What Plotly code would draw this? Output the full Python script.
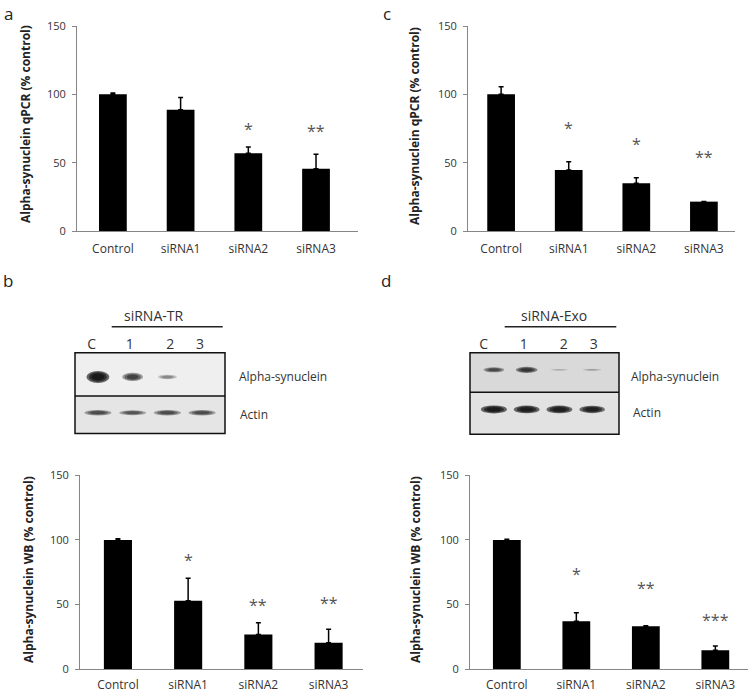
import plotly.graph_objects as go

W, H = 754, 693

# ---------------- data ----------------
categories = ["Control", "siRNA1", "siRNA2", "siRNA3"]
y_ticks = [0, 50, 100, 150]

qpcr_tr_mean = [100, 88.7, 56.8, 45.6]
qpcr_tr_err = [1.0, 9.0, 4.6, 10.5]
qpcr_tr_sig = ["", "", "*", "**"]
qpcr_tr_sig_y = [None, None, 77.5, 76]

qpcr_exo_mean = [100, 44.6, 34.9, 21.5]
qpcr_exo_err = [5.5, 6.0, 4.0, 0.0]
qpcr_exo_sig = ["", "*", "*", "**"]
qpcr_exo_sig_y = [None, 78, 66.6, 56.8]

wb_tr_mean = [100, 53, 27, 20.6]
wb_tr_err = [1.0, 17.4, 9.0, 10.3]
wb_tr_sig = ["", "*", "**", "**"]
wb_tr_sig_y = [None, 87.6, 52.8, 54]

wb_exo_mean = [100, 37.1, 33.3, 14.7]
wb_exo_err = [0.5, 6.7, 0.3, 3.4]
wb_exo_sig = ["", "*", "**", "***"]
wb_exo_sig_y = [None, 76.8, 65.7, 41.5]

lanes = ["C", "1", "2", "3"]
lane_index = [0, 1, 2, 3]
tr_alpha_band = [1.0, 0.62, 0.3, 0.0]
tr_actin_band = [0.55, 0.5, 0.55, 0.55]
exo_alpha_band = [0.55, 0.7, 0.14, 0.18]
exo_actin_band = [0.97, 0.95, 0.95, 0.9]

# ---------------- helpers ----------------
def fx(px):
    return px / W

def fy(py):
    return 1 - py / H

TXT = "#333333"
AX = "#868686"
FONT = "Open Sans"

fig = go.Figure()

panels = [
    dict(n="", mean=qpcr_tr_mean, err=qpcr_tr_err, sig=qpcr_tr_sig, sig_y=qpcr_tr_sig_y,
         box=(77, 358, 26, 231), xr=[-0.53, 3.62], w=0.41, so=7,
         title="Alpha-synuclein qPCR (% control)", tpos=(25, 124)),
    dict(n="2", mean=qpcr_exo_mean, err=qpcr_exo_err, sig=qpcr_exo_sig, sig_y=qpcr_exo_sig_y,
         box=(468, 735, 26, 231), xr=[-0.49, 3.46], w=0.41, so=7,
         title="Alpha-synuclein qPCR (% control)", tpos=(414, 126)),
    dict(n="3", mean=wb_tr_mean, err=wb_tr_err, sig=wb_tr_sig, sig_y=wb_tr_sig_y,
         box=(80, 363, 475.3, 669.3), xr=[-0.54, 3.49], w=0.40, so=4,
         title="Alpha-synuclein WB (% control)", tpos=(28, 570)),
    dict(n="4", mean=wb_exo_mean, err=wb_exo_err, sig=wb_exo_sig, sig_y=wb_exo_sig_y,
         box=(470, 748, 475.3, 669.3), xr=[-0.53, 3.47], w=0.40, so=4,
         title="Alpha-synuclein WB (% control)", tpos=(415, 570)),
]

annotations = []
shapes = []

for p in panels:
    xa = "x" + p["n"]
    ya = "y" + p["n"]
    fig.add_trace(go.Bar(
        x=categories, y=p["mean"], width=p["w"],
        marker=dict(color="black", line=dict(width=0)),
        error_y=dict(type="data", array=p["err"], arrayminus=[0] * len(p["err"]),
                     color="black", thickness=1.5, width=2.5),
        xaxis=xa, yaxis=ya, showlegend=False, hoverinfo="skip",
    ))
    x0, x1, y0, y1 = p["box"]
    xkey = "xaxis" + p["n"]
    ykey = "yaxis" + p["n"]
    fig.layout[xkey] = dict(
        domain=[fx(x0), fx(x1)], range=p["xr"], type="category", anchor=ya,
        showline=True, linecolor=AX, linewidth=1, ticks="", showgrid=False,
        tickfont=dict(family=FONT, size=12, color=TXT), zeroline=False,
        ticklabelstandoff=p["so"], automargin=False,
    )
    fig.layout[ykey] = dict(
        domain=[fy(y1), fy(y0)], range=[0, 150], anchor=xa,
        tickvals=y_ticks, showline=True, linecolor=AX, linewidth=1,
        ticks="outside", ticklen=4, tickcolor=AX, showgrid=False, zeroline=False,
        tickfont=dict(family=FONT, size=11, color=TXT), ticklabelstandoff=4,
        automargin=False,
    )
    for c, s, sy in zip(categories, p["sig"], p["sig_y"]):
        if s and sy is not None:
            annotations.append(dict(
                x=c, y=sy, xref=xa, yref=ya, text=s, showarrow=False,
                font=dict(family=FONT, size=16, color="#555555"), yshift=-4,
            ))
    annotations.append(dict(
        x=fx(p["tpos"][0]), y=fy(p["tpos"][1]), xref="paper", yref="paper",
        xanchor="center", yanchor="middle",
        text="<b>" + p["title"] + "</b>", textangle=-90, showarrow=False,
        font=dict(family=FONT, size=12, color="#222222"),
    ))

# ---------------- western blots ----------------
blots = [
    dict(n="5", alpha=tr_alpha_band, actin=tr_actin_band,
         box=(75, 225, 352.7, 433.5), xr=[-0.66, 3.66],
         rows=dict(alpha=1.40, actin=0.515, div=0.93),
         bg_top="#efefef", bg_bot="#e5e5e5",
         label_pos=[-0.18, 0.92, 2.08, 2.94],
         size_alpha=(0.33, 0.15), size_actin=(0.44, 0.11),
         header="siRNA-TR", hpos=(153, 315), hline=(111.7, 222.7, 326.7),
         lab_alpha=(236.7, 376.7), lab_actin=(238, 414)),
    dict(n="6", alpha=exo_alpha_band, actin=exo_actin_band,
         box=(470, 619, 352.7, 434.3), xr=[-0.73, 3.82],
         rows=dict(alpha=1.58, actin=0.61, div=1.03),
         bg_top="#d9d9d9", bg_bot="#e2e2e2",
         label_pos=[-0.31, 0.91, 2.13, 3.05],
         size_alpha=(0.36, 0.10), size_actin=(0.40, 0.10),
         header="siRNA-Exo", hpos=(553.5, 315), hline=(504.7, 616.3, 326.7),
         lab_alpha=(629.3, 376.7), lab_actin=(631, 413)),
]

for b in blots:
    xa = "x" + b["n"]
    ya = "y" + b["n"]
    x0, x1, y0, y1 = b["box"]
    fig.add_trace(go.Scatter(x=lane_index, y=[b["rows"]["alpha"]] * 4, mode="markers",
                             marker=dict(opacity=0), xaxis=xa, yaxis=ya,
                             showlegend=False, hoverinfo="skip"))
    fig.layout["xaxis" + b["n"]] = dict(
        domain=[fx(x0), fx(x1)], range=b["xr"], anchor=ya, side="top",
        tickvals=b["label_pos"], ticktext=lanes, ticks="", showline=False,
        showgrid=False, zeroline=False, ticklabelstandoff=0, automargin=False,
        tickfont=dict(family=FONT, size=14, color=TXT),
    )
    fig.layout["yaxis" + b["n"]] = dict(
        domain=[fy(y1), fy(y0)], range=[0, 2], anchor=xa, automargin=False,
        showticklabels=False, ticks="", showline=False, showgrid=False, zeroline=False,
    )
    div = b["rows"]["div"]
    shapes.append(dict(type="rect", xref=xa + " domain", yref=ya, x0=0, x1=1, y0=div, y1=2,
                       fillcolor=b["bg_top"], line=dict(width=0), layer="below"))
    shapes.append(dict(type="rect", xref=xa + " domain", yref=ya, x0=0, x1=1, y0=0, y1=div,
                       fillcolor=b["bg_bot"], line=dict(width=0), layer="below"))
    for key, size in (("alpha", b["size_alpha"]), ("actin", b["size_actin"])):
        row = b["rows"][key]
        for li, inten in zip(lane_index, b[key]):
            if inten <= 0:
                continue
            hw = size[0] * (0.75 + 0.25 * inten)
            hh = size[1] * (inten ** 0.8)
            for sc in (1.0, 0.78, 0.55):
                shapes.append(dict(
                    type="circle", xref=xa, yref=ya,
                    x0=li - hw * sc, x1=li + hw * sc, y0=row - hh * sc, y1=row + hh * sc,
                    fillcolor="rgba(15,15,15,%.3f)" % (0.62 * inten),
                    line=dict(width=0), layer="above",
                ))
    shapes.append(dict(type="line", xref=xa + " domain", yref=ya, x0=0, x1=1, y0=div, y1=div,
                       line=dict(color="#111111", width=1.5)))
    shapes.append(dict(type="rect", xref=xa + " domain", yref=ya + " domain", x0=0, x1=1,
                       y0=0, y1=1, line=dict(color="#111111", width=1.5)))
    annotations.append(dict(x=fx(b["hpos"][0]), y=fy(b["hpos"][1]), xref="paper", yref="paper",
                            xanchor="center", yanchor="middle",
                            text=b["header"], showarrow=False,
                            font=dict(family=FONT, size=14, color=TXT)))
    hx0, hx1, hy = b["hline"]
    shapes.append(dict(type="line", xref="paper", yref="paper", x0=fx(hx0), x1=fx(hx1),
                       y0=fy(hy), y1=fy(hy), line=dict(color="#222222", width=1.5)))
    annotations.append(dict(x=fx(b["lab_alpha"][0]), y=fy(b["lab_alpha"][1]), xref="paper",
                            yref="paper", text="Alpha-synuclein", showarrow=False,
                            xanchor="left", yanchor="middle",
                            font=dict(family=FONT, size=12, color=TXT)))
    annotations.append(dict(x=fx(b["lab_actin"][0]), y=fy(b["lab_actin"][1]), xref="paper",
                            yref="paper", text="Actin", showarrow=False,
                            xanchor="left", yanchor="middle",
                            font=dict(family=FONT, size=12, color=TXT)))

# panel letters
for letter, (px, py, ys) in (("a", (8, 0, 0)), ("c", (387, 0, 0)),
                             ("b", (8, 273, 6)), ("d", (386, 273, 6))):
    annotations.append(dict(x=fx(px), y=fy(py), xref="paper", yref="paper", text=letter,
                            xanchor="center", yanchor="top", yshift=ys,
                            showarrow=False, font=dict(family=FONT, size=17, color="#222222")))

fig.update_layout(
    template="none",
    width=W, height=H, margin=dict(l=0, r=0, t=0, b=0, pad=0),
    paper_bgcolor="white", plot_bgcolor="white",
    showlegend=False, annotations=annotations, shapes=shapes,
    font=dict(family=FONT, color=TXT),
)

fig.write_html(
    "out.html",
    config={"displayModeBar": False},
    post_script="document.body.style.margin='0px';document.body.style.overflow='hidden';",
)
